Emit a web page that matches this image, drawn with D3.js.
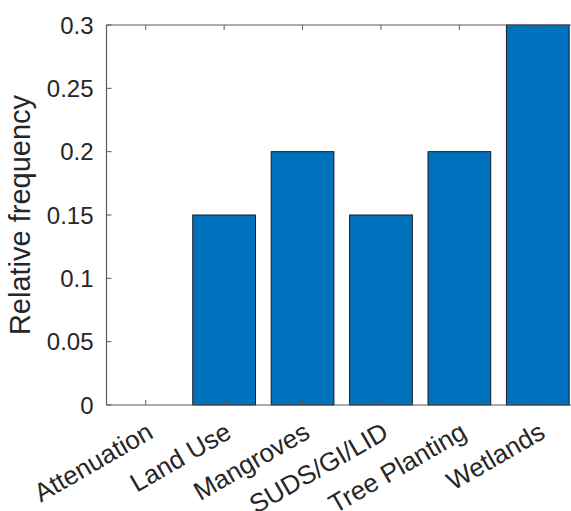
<!DOCTYPE html>
<html><head><meta charset="utf-8">
<script src="https://cdn.jsdelivr.net/npm/d3@7"></script>
<style>body{margin:0;background:#fff}svg{display:block}text{font-family:"Liberation Sans",Arial,sans-serif}</style>
</head><body>
<svg id="c" width="571" height="511"></svg>
<script>
const categories = ["Attenuation","Land Use","Mangroves","SUDS/GI/LID","Tree Planting","Wetlands"];
const values = [0, 0.15, 0.2, 0.15, 0.2, 0.3];
const yTicks = [0, 0.05, 0.1, 0.15, 0.2, 0.25, 0.3];
const yTickLabels = ["0","0.05","0.1","0.15","0.2","0.25","0.3"];

const svg = d3.select("#c");
const L = 106.5, R = 577, T = 25, B = 405;
const x = d3.scaleLinear().domain([0.5, 6.5]).range([L, R]);
const y = d3.scaleLinear().domain([0, 0.3]).range([B, T]);
const axisColor = "#5a5a5a";

// bars
svg.append("g").selectAll("rect").data(values).join("rect")
  .attr("x", (d,i) => x(i+1-0.4))
  .attr("width", (d,i) => x(i+1+0.4) - x(i+1-0.4))
  .attr("y", d => y(d))
  .attr("height", d => B - y(d))
  .attr("fill", "#0072BD")
  .attr("stroke", "#1a1a1a")
  .attr("stroke-width", 1)
  .attr("display", d => d > 0 ? null : "none");

// axes box
const g = svg.append("g");
g.append("line").attr("x1", L).attr("x2", R).attr("y1", B).attr("y2", B).attr("stroke", axisColor).attr("stroke-width", 1.2);
g.append("line").attr("x1", L).attr("x2", R).attr("y1", T).attr("y2", T).attr("stroke", axisColor).attr("stroke-width", 1.2);
g.append("line").attr("x1", L).attr("x2", L).attr("y1", T).attr("y2", B).attr("stroke", axisColor).attr("stroke-width", 1.2);

// x ticks (bottom and top, inward)
categories.forEach((c, i) => {
  const xx = x(i+1);
  g.append("line").attr("x1", xx).attr("x2", xx).attr("y1", B).attr("y2", B-5).attr("stroke", axisColor);
  g.append("line").attr("x1", xx).attr("x2", xx).attr("y1", T).attr("y2", T+5).attr("stroke", axisColor);
  g.append("text").attr("transform", `translate(${xx+9},${B+32}) rotate(-30)`)
    .attr("text-anchor", "end").attr("font-size", 26).attr("fill", "#262626").text(c);
});

// y ticks
yTicks.forEach((t, i) => {
  const yy = y(t);
  g.append("line").attr("x1", L).attr("x2", L+5).attr("y1", yy).attr("y2", yy).attr("stroke", axisColor);
  g.append("text").attr("x", L-13).attr("y", yy).attr("dy", "0.36em")
    .attr("text-anchor", "end").attr("font-size", 24).attr("fill", "#262626").text(yTickLabels[i]);
});

// y label
svg.append("text").attr("transform", `translate(30,${(T+B)/2}) rotate(-90)`)
  .attr("text-anchor", "middle").attr("font-size", 29).attr("fill", "#262626").text("Relative frequency");
</script>
</body></html>
